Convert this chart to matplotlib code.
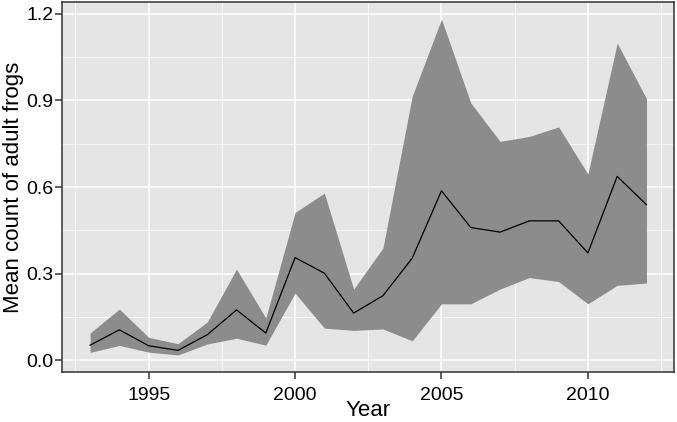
import numpy as np
import matplotlib
matplotlib.use("Agg")
import matplotlib.pyplot as plt
from matplotlib.ticker import MultipleLocator, FormatStrFormatter

plt.rcParams['font.family'] = ['Liberation Sans', 'DejaVu Sans']

# data
years = np.arange(1993, 2013)
mean_count = [0.053, 0.106, 0.051, 0.035, 0.089, 0.175, 0.095, 0.356, 0.302, 0.164,
              0.224, 0.354, 0.587, 0.460, 0.444, 0.483, 0.483, 0.372, 0.637, 0.539]
upper = [0.095, 0.178, 0.080, 0.058, 0.133, 0.316, 0.147, 0.512, 0.579, 0.247,
         0.389, 0.914, 1.181, 0.891, 0.758, 0.775, 0.808, 0.645, 1.098, 0.906]
lower = [0.028, 0.052, 0.029, 0.019, 0.057, 0.077, 0.053, 0.233, 0.112, 0.104,
         0.109, 0.068, 0.196, 0.196, 0.247, 0.287, 0.273, 0.196, 0.260, 0.268]

fig = plt.figure(figsize=(6.77, 4.22), dpi=100)
ax = fig.add_axes([0.092, 0.119, 0.904, 0.8755])

ax.set_facecolor('#E5E5E5')
ax.fill_between(years, lower, upper, color='#8C8C8C', lw=0, zorder=2)
ax.plot(years, mean_count, color='black', lw=0.9, zorder=3)

# ggplot-like expansion
xr = years.max() - years.min()
ax.set_xlim(years.min() - 0.05 * xr, years.max() + 0.05 * xr)
ymin, ymax = min(lower), max(upper)
yr = ymax - ymin
ax.set_ylim(ymin - 0.05 * yr, ymax + 0.05 * yr)

ax.xaxis.set_major_locator(MultipleLocator(5))
ax.xaxis.set_minor_locator(MultipleLocator(2.5))
ax.yaxis.set_major_locator(MultipleLocator(0.3))
ax.yaxis.set_minor_locator(MultipleLocator(0.15))
ax.yaxis.set_major_formatter(FormatStrFormatter('%.1f'))

ax.grid(which='major', color='white', lw=1.1, zorder=1)
ax.grid(which='minor', color='white', lw=0.5, zorder=1)
ax.set_axisbelow(True)

ax.tick_params(which='major', direction='out', length=4.8, width=1.1, color='#333333',
               labelsize=14, labelcolor='black')
ax.tick_params(axis='x', pad=6)
ax.tick_params(axis='y', pad=1.5)
ax.tick_params(which='minor', length=0)
for s in ax.spines.values():
    s.set_color('#333333')
    s.set_linewidth(1.1)

ax.set_xlabel('Year', fontsize=16, labelpad=-2.5)
ax.set_ylabel('Mean count of adult frogs', fontsize=16, labelpad=2)

plt.savefig('out.png', dpi=100)
